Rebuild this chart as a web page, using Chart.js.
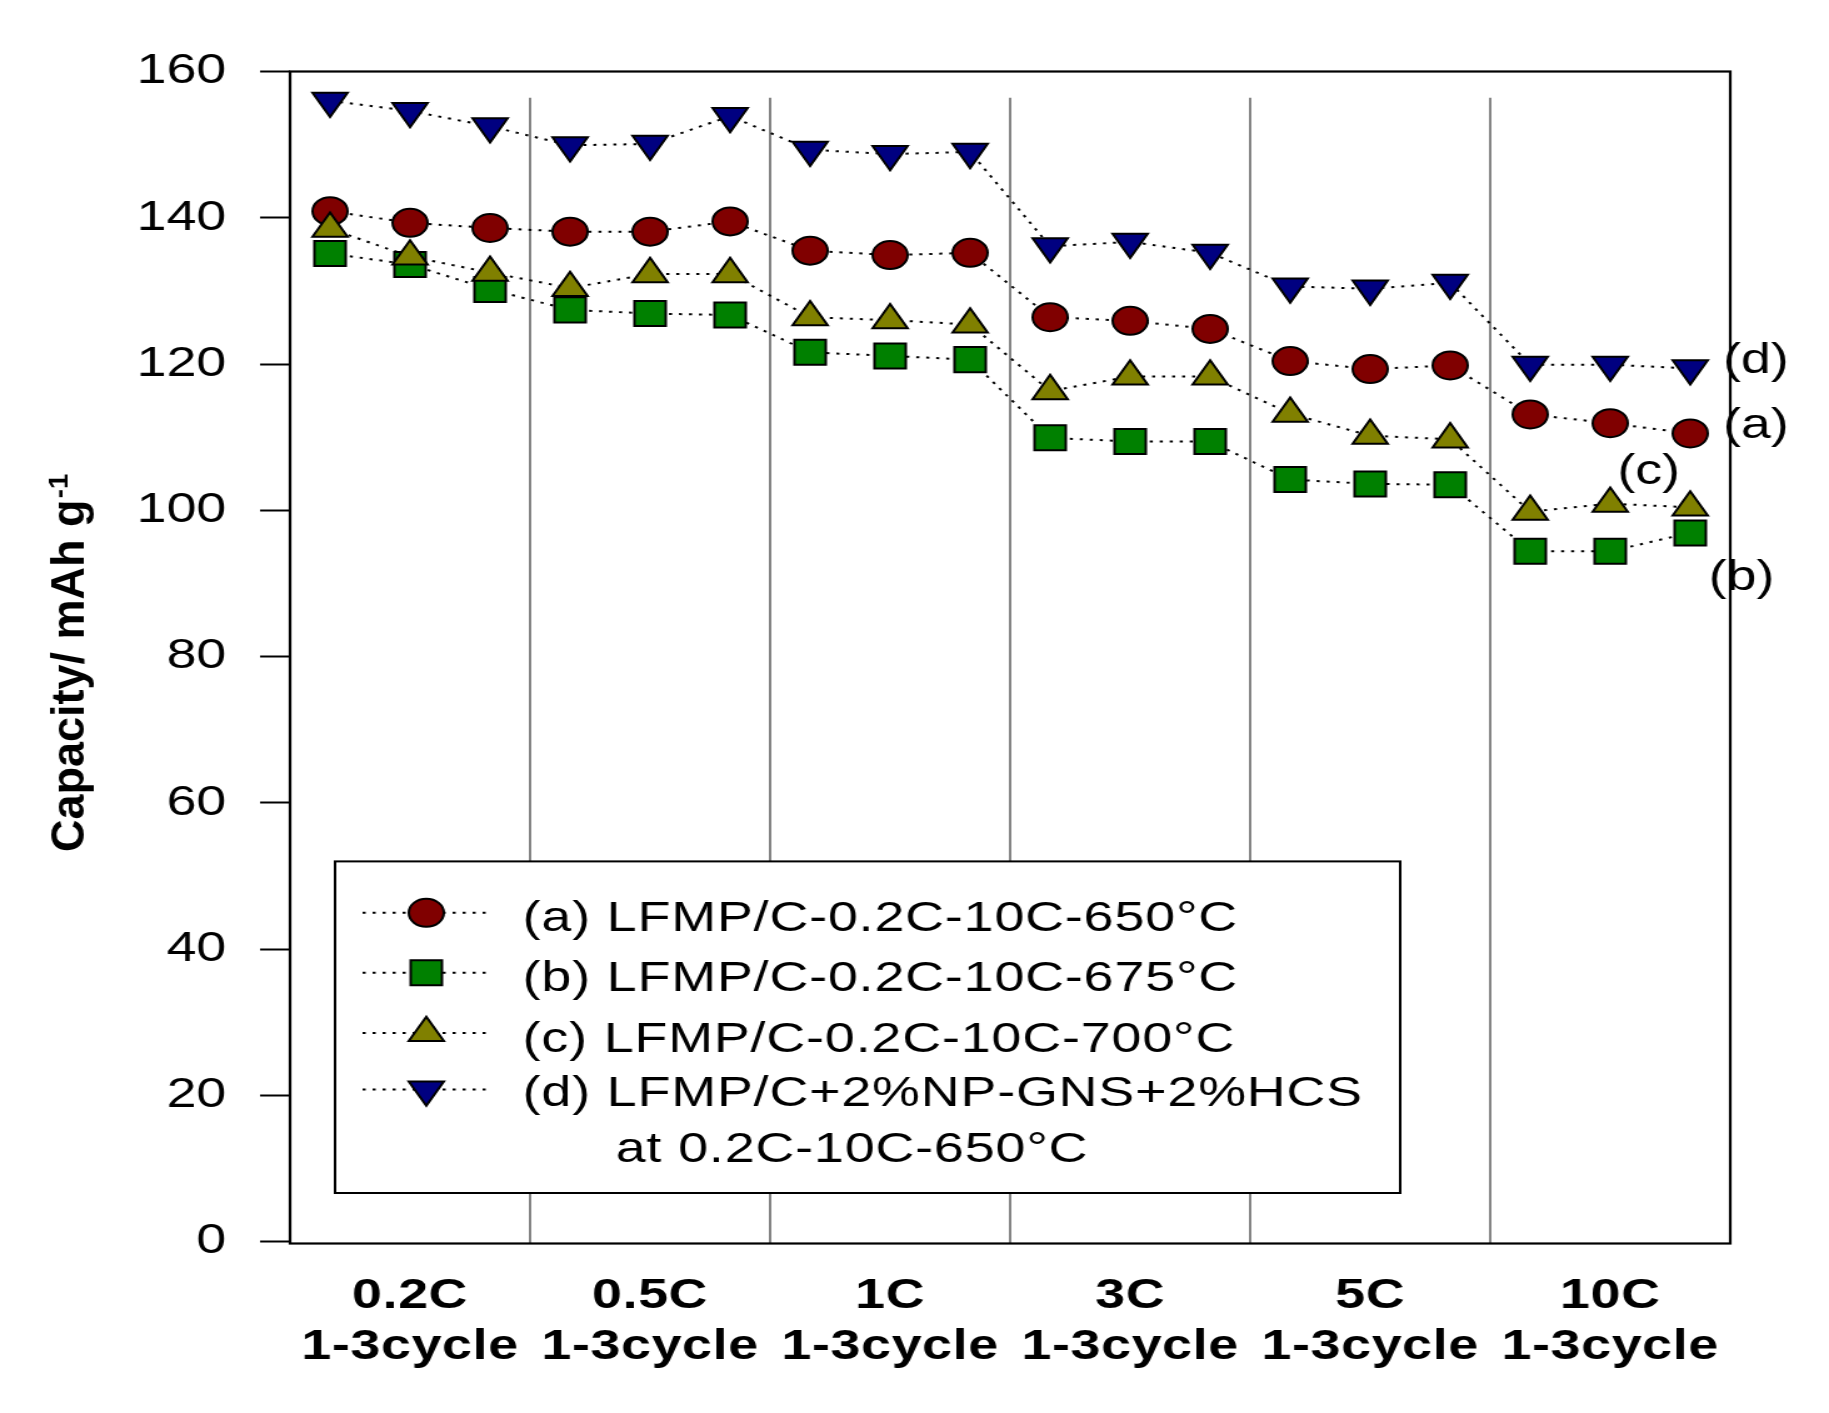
<!DOCTYPE html>
<html><head><meta charset="utf-8">
<script src="https://cdn.jsdelivr.net/npm/chart.js@4.4.0/dist/chart.umd.min.js"></script>
<style>html,body{margin:0;padding:0;background:#fff;overflow:hidden}</style>
</head><body>
<canvas id="c" width="1463" height="1413" style="display:block;width:1829px;height:1413px"></canvas>
<script>
// ---- data ----
const rateLabels = ['0.2C', '0.5C', '1C', '3C', '5C', '10C'];
const cycleLabel = '1-3cycle';
const cyclesPerRate = [1, 2, 3];
const seriesNames = [
  ['(a) LFMP/C-0.2C-10C-650°C'],
  ['(b) LFMP/C-0.2C-10C-675°C'],
  ['(c) LFMP/C-0.2C-10C-700°C'],
  ['(d) LFMP/C+2%NP-GNS+2%HCS', 'at 0.2C-10C-650°C']
];
const seriesA = [140.9, 139.3, 138.6, 138.1, 138.1, 139.5, 135.5, 134.9, 135.2, 126.4, 125.9, 124.8, 120.4, 119.3, 119.8, 113.1, 111.9, 110.5];
const seriesB = [135.1, 133.6, 130.2, 127.4, 126.9, 126.7, 121.6, 121.1, 120.6, 109.9, 109.4, 109.4, 104.2, 103.6, 103.5, 94.4, 94.4, 96.9];
const seriesC = [138.5, 134.7, 132.5, 130.4, 132.3, 132.3, 126.4, 126.0, 125.4, 116.3, 118.3, 118.3, 113.2, 110.2, 109.7, 99.8, 100.9, 100.4];
const seriesD = [156.0, 154.6, 152.5, 149.9, 150.1, 153.9, 149.3, 148.7, 149.0, 136.1, 136.7, 135.2, 130.6, 130.3, 131.1, 119.9, 119.9, 119.4];
const yTicks = [0, 20, 40, 60, 80, 100, 120, 140, 160];
const curveTags = ['(d)', '(a)', '(c)', '(b)'];

// ---- build ----
const categories = rateLabels.flatMap(r => cyclesPerRate.map(c => r + ' #' + c));
const FONT = "'Liberation Sans', Arial, Helvetica, sans-serif";

const styles = [
  {fill: '#800000', pointStyle: 'circle', radius: 14, rotation: 0},
  {fill: '#008000', pointStyle: 'rect', radius: 17.7, rotation: 0},
  {fill: '#808000', pointStyle: 'triangle', radius: 16.2, rotation: 0},
  {fill: '#000080', pointStyle: 'triangle', radius: 16.2, rotation: 180}
];
const allSeries = [seriesA, seriesB, seriesC, seriesD];

const datasets = allSeries.map((vals, i) => ({
  label: seriesNames[i].join(' '),
  data: vals,
  borderColor: '#000',
  borderWidth: 2,
  borderDash: [2.5, 5.5],
  fill: false,
  tension: 0,
  pointStyle: styles[i].pointStyle,
  pointRotation: styles[i].rotation,
  pointRadius: styles[i].radius,
  pointHoverRadius: styles[i].radius,
  pointBackgroundColor: styles[i].fill,
  pointBorderColor: '#000',
  pointBorderWidth: 2,
  order: 4 - i
}));

const decorPlugin = {
  id: 'decor',
  beforeDatasetsDraw(chart) {
    const {ctx, chartArea: a, scales: {x, y}} = chart;
    ctx.save();
    // group dividers
    ctx.strokeStyle = '#848484';
    ctx.lineWidth = 2;
    const yTop = y.getPixelForValue(156.4);
    for (let g = 1; g < rateLabels.length; g++) {
      const px = x.getPixelForValue(g * cyclesPerRate.length - 0.5);
      ctx.beginPath(); ctx.moveTo(px, yTop); ctx.lineTo(px, a.bottom + 2); ctx.stroke();
    }
    // frame
    ctx.strokeStyle = '#000';
    ctx.lineWidth = 2.2;
    ctx.strokeRect(a.left, a.top, a.right - a.left, a.bottom + 2 - a.top);
    ctx.restore();
  },
  afterDatasetsDraw(chart) {
    const {ctx} = chart;
    ctx.save();
    // legend box
    const box = {left: 268, top: 861.4, right: 1120, bottom: 1193};
    ctx.fillStyle = '#fff';
    ctx.fillRect(box.left, box.top, box.right - box.left, box.bottom - box.top);
    ctx.strokeStyle = '#000';
    ctx.lineWidth = 2;
    ctx.strokeRect(box.left, box.top, box.right - box.left, box.bottom - box.top);
    const markerY = [912.8, 972.8, 1033, 1089.5];
    const textY = [931, 991, 1051.5, 1105.6];
    for (let i = 0; i < 4; i++) {
      ctx.setLineDash([2.5, 5.5]);
      ctx.strokeStyle = '#000';
      ctx.lineWidth = 2;
      ctx.beginPath(); ctx.moveTo(290, markerY[i]); ctx.lineTo(390, markerY[i]); ctx.stroke();
      ctx.setLineDash([]);
      ctx.fillStyle = styles[i].fill;
      ctx.strokeStyle = '#000';
      ctx.lineWidth = 2;
      Chart.helpers.drawPoint(ctx, {pointStyle: styles[i].pointStyle, rotation: styles[i].rotation, radius: styles[i].radius, borderWidth: 2}, 341, markerY[i]);
      ctx.fillStyle = '#000';
      ctx.font = '43px ' + FONT;
      ctx.letterSpacing = '0.7px';
      ctx.textAlign = 'left';
      ctx.textBaseline = 'alphabetic';
      ctx.fillText(seriesNames[i][0], 418, textY[i]);
      if (seriesNames[i][1]) ctx.fillText(seriesNames[i][1], 492.5, 1161.5);
      ctx.letterSpacing = '0px';
    }
    ctx.restore();
  },
  afterDraw(chart) {
    const {ctx, chartArea: a, scales: {x, y}} = chart;
    ctx.save();
    ctx.fillStyle = '#000';
    // category labels
    ctx.font = 'bold 43px ' + FONT;
    ctx.letterSpacing = '0.5px';
    ctx.textAlign = 'center';
    ctx.textBaseline = 'alphabetic';
    for (let g = 0; g < rateLabels.length; g++) {
      const cx = x.getPixelForValue(g * cyclesPerRate.length + 1);
      ctx.fillText(rateLabels[g], cx, a.bottom + 66.5);
      ctx.fillText(cycleLabel, cx, a.bottom + 117.5);
    }
    ctx.letterSpacing = '0px';
    // curve tags
    ctx.font = '43px ' + FONT;
    ctx.textAlign = 'left';
    const tagPos = [[17.41, 118.8], [17.41, 109.9], [16.09, 103.6], [17.23, 89.1]];
    curveTags.forEach((t, i) => {
      ctx.fillText(t, x.getPixelForValue(tagPos[i][0]), y.getPixelForValue(tagPos[i][1]));
    });
    // y title
    ctx.save();
    ctx.translate(67, 852);
    ctx.rotate(-Math.PI / 2);
    ctx.scale(1.25, 1);
    ctx.font = 'bold 36px ' + FONT;
    ctx.textAlign = 'left';
    const main = 'Capacity/ mAh g';
    ctx.fillText(main, 0, 0);
    const w = ctx.measureText(main).width;
    ctx.font = 'bold 22px ' + FONT;
    ctx.fillText('-1', w + 1, -13);
    ctx.restore();
    ctx.restore();
  }
};

new Chart(document.getElementById('c'), {
  type: 'line',
  data: {labels: categories, datasets},
  options: {
    responsive: false,
    devicePixelRatio: 1,
    animation: false,
    events: [],
    layout: {padding: {left: 0, top: 71.5, right: 79, bottom: 171.5}},
    plugins: {legend: {display: false}, tooltip: {enabled: false}},
    scales: {
      x: {
        type: 'category',
        offset: true,
        ticks: {display: false},
        grid: {display: false},
        border: {display: false},
        afterFit(s) { s.height = 0; }
      },
      y: {
        min: 0, max: 160,
        afterBuildTicks(s) { s.ticks = yTicks.map(v => ({value: v})); },
        ticks: {color: '#000', font: {family: FONT, size: 43}, padding: 27, callback: v => String(v)},
        grid: {display: true, drawOnChartArea: false, drawTicks: true, tickLength: 24, tickColor: '#000', tickWidth: 2},
        border: {display: false},
        afterFit(s) { s.width = 232; }
      }
    }
  },
  plugins: [decorPlugin]
});
</script>
</body></html>
